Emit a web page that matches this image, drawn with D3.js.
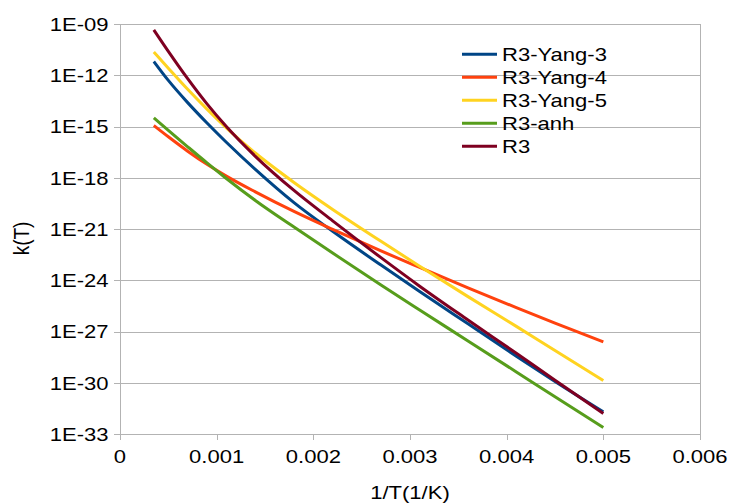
<!DOCTYPE html>
<html>
<meta charset="utf-8">
<style type="text/css">
	body { margin: 0; background: #fff; }
	text { font-family: "Liberation Sans", Arial, sans-serif; font-size: 19px; fill: #000; }
	.grid { stroke: #b3b3b3; stroke-width: 1px; shape-rendering: crispEdges; }
	.curve { fill: none; stroke-width: 3px; }
</style>
<svg width="729" height="504"></svg>
<script src="https://cdn.jsdelivr.net/npm/d3@7"></script>
<script>
	// 1/T values (1/K) where the curves were read
	var invT = [0.00035, 0.0005, 0.0007, 0.0009, 0.0011, 0.0014, 0.0018, 0.0022, 0.0027, 0.0031, 0.0036, 0.0041, 0.0045, 0.005];

	var yang3 = [6.4e-12, 5.0e-13, 2.5e-14, 1.6e-15, 1.2e-16, 3.1e-18, 3.5e-20, 7.3e-22, 7.7e-24, 2.2e-25, 2.8e-27, 3.6e-29, 1.2e-30, 2.0e-32];
	var yang4 = [1.14e-15, 2.5e-16, 3.6e-17, 6.1e-18, 1.25e-18, 1.5e-19, 1.07e-20, 9.5e-22, 5.2e-23, 5.6e-24, 3.6e-25, 2.5e-26, 3.1e-27, 2.5e-28];
	var yang5 = [2.3e-11, 2.6e-12, 1.5e-13, 1.04e-14, 8.4e-16, 2.8e-17, 5.3e-19, 1.4e-20, 1.9e-22, 6.6e-24, 1.1e-25, 2.0e-27, 7.7e-29, 1.35e-30];
	var anh = [3.2e-15, 5.9e-16, 6.5e-17, 7.4e-18, 9.1e-19, 4.7e-20, 1.3e-21, 3.9e-23, 5.2e-25, 1.8e-26, 2.8e-28, 4.3e-30, 1.5e-31, 2.4e-33];
	var r3 = [4.5e-10, 2.5e-11, 6.3e-13, 2.1e-14, 9.9e-16, 1.8e-17, 1.8e-19, 3.0e-21, 2.1e-23, 4.5e-25, 4.7e-27, 5.3e-29, 1.4e-30, 1.6e-32];

	var seriesNames = ['R3-Yang-3', 'R3-Yang-4', 'R3-Yang-5', 'R3-anh', 'R3'];
	var seriesValues = [yang3, yang4, yang5, anh, r3];
	var colors = ['#004586', '#ff420e', '#ffd320', '#579d1c', '#7e0021'];

	var xTicks = [0, 0.001, 0.002, 0.003, 0.004, 0.005, 0.006];
	var yTicks = [1e-9, 1e-12, 1e-15, 1e-18, 1e-21, 1e-24, 1e-27, 1e-30, 1e-33];

	var svg = d3.select('svg'),
			plotL = 120, plotR = 700, plotT = 24, plotB = 434,
			stretch = 1.16;

	var x = d3.scaleLinear().domain([0, 0.006]).range([plotL, plotR]);
	var y = d3.scaleLog().domain([1e-33, 1e-9]).range([plotB, plotT]);

	// horizontal grid lines and left ticks
	svg.selectAll('.hgrid')
			.data(yTicks)
		.enter().append('line')
			.attr('class', 'grid')
			.attr('x1', plotL - 6).attr('x2', plotR)
			.attr('y1', (d) => Math.round(y(d)) + 0.5)
			.attr('y2', (d) => Math.round(y(d)) + 0.5);

	// bottom ticks
	svg.selectAll('.xtick')
			.data(xTicks)
		.enter().append('line')
			.attr('class', 'grid')
			.attr('x1', (d) => Math.round(x(d)) + 0.5)
			.attr('x2', (d) => Math.round(x(d)) + 0.5)
			.attr('y1', plotB).attr('y2', plotB + 6);

	// left axis line and right border
	[0, 0.006].forEach(function(v) {
		svg.append('line')
			.attr('class', 'grid')
			.attr('x1', Math.round(x(v)) + 0.5).attr('x2', Math.round(x(v)) + 0.5)
			.attr('y1', plotT).attr('y2', plotB + 6);
	});

	function fmtY(d) {
		var e = -Math.round(Math.log10(d));
		return '1E-' + String(e).padStart(2, '0');
	}

	svg.selectAll('.ylab')
			.data(yTicks)
		.enter().append('text')
			.attr('text-anchor', 'end')
			.attr('transform', (d) => 'translate(108.5,' + (y(d) + 6.8) + ') scale(' + stretch + ',1)')
			.text(fmtY);

	svg.selectAll('.xlab')
			.data(xTicks)
		.enter().append('text')
			.attr('text-anchor', 'middle')
			.attr('transform', (d) => 'translate(' + x(d) + ',463.3) scale(' + stretch + ',1)')
			.text((d) => d === 0 ? '0' : d3.format('.3f')(d));

	svg.append('text')
		.attr('text-anchor', 'middle')
		.attr('transform', 'translate(' + ((plotL + plotR) / 2) + ',499) scale(' + stretch + ',1)')
		.text('1/T(1/K)');

	svg.append('text')
		.attr('text-anchor', 'middle')
		.attr('transform', 'translate(29,238.5) rotate(-90) scale(1,' + stretch + ')')
		.text('k(T)');

	var line = d3.line()
			.x((d) => x(d[0]))
			.y((d) => y(d[1]))
			.curve(d3.curveMonotoneX);

	// draw order: later series on top
	seriesValues.forEach(function(vals, i) {
		svg.append('path')
			.attr('class', 'curve')
			.attr('stroke', colors[i])
			.attr('d', line(invT.map((t, j) => [t, vals[j]])));
	});

	var legend = svg.selectAll('.legend')
			.data(seriesNames)
		.enter().append('g')
			.attr('transform', (d, i) => 'translate(0,' + (54.3 + i * 23) + ')');

	legend.append('line')
		.attr('x1', 462).attr('x2', 497)
		.attr('stroke', (d, i) => colors[i])
		.attr('stroke-width', 3);

	legend.append('text')
		.attr('transform', 'translate(502,6.7) scale(' + stretch + ',1)')
		.text((d) => d);
</script>
</html>
